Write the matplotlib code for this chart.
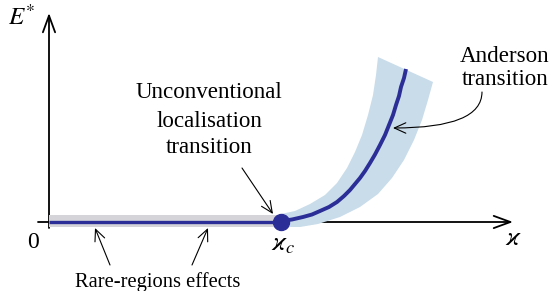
import matplotlib
matplotlib.use('Agg')
import matplotlib.pyplot as plt
from matplotlib.patches import Polygon, Rectangle

plt.rcParams['font.family'] = ['Liberation Serif', 'DejaVu Serif']
plt.rcParams['mathtext.fontset'] = 'stix'

# ---- schematic data (arbitrary units, origin at the axes crossing) ----
kappa_c = 232
plateau_E = 0
# Anderson transition curve E*(kappa) above kappa_c
curve_kappa = [232, 243, 254, 263, 271, 280, 288, 295, 301, 306, 311, 316, 321,
               326, 331, 336, 340, 344, 347, 350, 352, 355, 357]
curve_E = [1, 2.5, 5, 7.5, 11, 15, 20, 26, 32, 38, 44, 51, 59,
           67.5, 77, 87, 97, 107, 117, 126, 135, 144, 153]
# uncertainty band around the curve (upper-left edge, then lower-right edge)
band_upper_kappa = [232, 246, 261, 276, 288, 298, 306, 313, 319, 324, 327, 329]
band_upper_E = [8, 11, 18, 27, 39, 54, 70, 87, 107, 127, 147, 165]
band_lower_kappa = [384, 379, 373, 365, 355, 343, 329, 311, 291, 269, 251, 232]
band_lower_E = [140, 122, 102, 82, 62, 44, 28, 15, 5, -2, -5, -5]
# rare-regions (grey) band along the plateau
rare_E_low, rare_E_high = -5, 7

DARK_BLUE = '#2b2e97'
LIGHT_BLUE = '#c9dcea'
GREY = '#d5d5d9'

fig = plt.figure(figsize=(5.53, 2.91), dpi=100)
ax = fig.add_axes([0, 0, 1, 1])
ax.set_xlim(-49, 504)
ax.set_ylim(-69, 222)
ax.axis('off')

# axes arrows
axis_style = dict(arrowstyle='->,head_length=0.6,head_width=0.22', lw=1.3,
                  color='black', shrinkA=0, shrinkB=0, mutation_scale=20)
ax.annotate('', xy=(464, 0), xytext=(-11, 0), arrowprops=axis_style, zorder=1)
ax.annotate('', xy=(0, 209), xytext=(0, -6), arrowprops=axis_style, zorder=1)

# light-blue band
band_pts = list(zip(band_upper_kappa, band_upper_E)) + list(zip(band_lower_kappa, band_lower_E))
ax.add_patch(Polygon(band_pts, closed=True, facecolor=LIGHT_BLUE, edgecolor='none',
                     joinstyle='round', zorder=2))

# grey rare-regions band
ax.add_patch(Rectangle((0, rare_E_low), kappa_c, rare_E_high - rare_E_low,
                       facecolor=GREY, edgecolor='none', zorder=2))

# plateau line and curve
ax.plot([0, kappa_c], [plateau_E, plateau_E], color=DARK_BLUE, lw=2.4,
        solid_capstyle='butt', zorder=3)
ax.plot(curve_kappa, curve_E, color=DARK_BLUE, lw=2.8, solid_capstyle='butt',
        solid_joinstyle='round', zorder=3)
ax.plot([kappa_c], [plateau_E], 'o', color=DARK_BLUE, ms=11.5, zorder=4)

# labels
ax.text(-27, 197, r'$E^{*}$', fontsize=18, ha='center', va='baseline')
ax.text(-16, -26, '0', fontsize=17, ha='center', va='baseline')
ax.text(234, -28, r'$\varkappa_c$', fontsize=19, ha='center', va='baseline')
ax.text(465, -23, r'$\varkappa$', fontsize=19, ha='center', va='baseline')

ax.text(160, 124, 'Unconventional', fontsize=16.6, ha='center', va='baseline')
ax.text(160, 95, 'localisation', fontsize=16.6, ha='center', va='baseline')
ax.text(160, 69, 'transition', fontsize=16.6, ha='center', va='baseline')

ax.text(456, 160, 'Anderson', fontsize=16.6, ha='center', va='baseline')
ax.text(456, 137, 'transition', fontsize=16.6, ha='center', va='baseline')

ax.text(109, -65, 'Rare-regions effects', fontsize=14.8, ha='center', va='baseline')

thin = dict(arrowstyle='->,head_length=0.55,head_width=0.25', lw=0.8,
            color='black', shrinkA=0, shrinkB=0, mutation_scale=15)
ax.annotate('', xy=(224, 8), xytext=(193, 54), arrowprops=thin, zorder=5)
ax.annotate('', xy=(344, 94), xytext=(433, 130),
            arrowprops=dict(thin, connectionstyle='angle3,angleA=90,angleB=0'), zorder=5)
ax.annotate('', xy=(46, -6), xytext=(61, -43), arrowprops=thin, zorder=5)
ax.annotate('', xy=(159, -6), xytext=(143, -43), arrowprops=thin, zorder=5)

fig.savefig('out.png', dpi=100)
